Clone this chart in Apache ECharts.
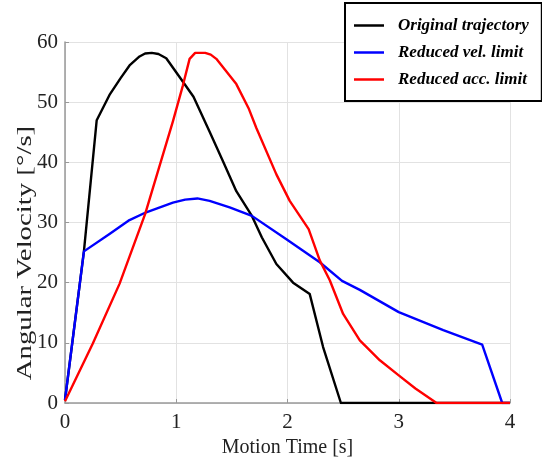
<!DOCTYPE html>
<html>
<head>
<meta charset="utf-8">
<script src="https://cdn.jsdelivr.net/npm/echarts@6/dist/echarts.min.js"></script>
<style>
    html, body { margin: 0; padding: 0; background: #fff; }
    #chart { width: 542px; height: 464px; }
</style>
</head>
<body>
<div id="chart"></div>
<script>
    // values
    var seriesNames = ['Original trajectory', 'Reduced vel. limit', 'Reduced acc. limit'];

    var origX = [0, 0.17, 0.285, 0.40, 0.50, 0.58, 0.67, 0.72, 0.78, 0.84, 0.91, 1.06, 1.155, 1.30, 1.42, 1.54, 1.68, 1.77, 1.90, 2.05, 2.20, 2.32, 2.48, 4.0];
    var origY = [0.5, 25.2, 47.0, 51.2, 54.0, 56.1, 57.6, 58.1, 58.2, 58.0, 57.3, 53.4, 50.9, 45.1, 40.2, 35.2, 31.1, 27.5, 23.1, 20.0, 18.1, 9.3, 0, 0];

    var velX = [0, 0.17, 0.40, 0.57, 0.73, 0.97, 1.08, 1.19, 1.30, 1.48, 1.68, 1.99, 2.29, 2.49, 2.65, 3.0, 3.40, 3.75, 3.93, 4.0];
    var velY = [0.5, 25.2, 28.1, 30.3, 31.7, 33.3, 33.8, 34.0, 33.6, 32.5, 31.1, 27.2, 23.4, 20.3, 18.8, 15.1, 12.1, 9.7, 0, 0];

    var accX = [0, 0.25, 0.49, 0.72, 0.97, 1.06, 1.12, 1.17, 1.26, 1.31, 1.36, 1.54, 1.65, 1.72, 1.90, 2.02, 2.19, 2.29, 2.38, 2.50, 2.65, 2.83, 3.0, 3.15, 3.34, 4.0];
    var accY = [0.3, 9.9, 19.8, 31.4, 46.8, 52.8, 57.2, 58.2, 58.2, 57.9, 57.2, 53.0, 49.0, 45.7, 38.0, 33.6, 28.9, 23.7, 20.4, 14.8, 10.4, 7.1, 4.6, 2.4, 0, 0];

    var colors = ['#000000', '#0000ff', '#ff0000'];

    function pairs(xs, ys) {
        var res = [];
        for (var i = 0; i < xs.length; i++) {
            res.push([xs[i], ys[i]]);
        }
        return res;
    }

    var serif = '"Liberation Serif", "Times New Roman", serif';
    // plain line as legend icon (no dot)
    var lineIcon = 'path://M0,0 L30,0 L30,2.5 L0,2.5 Z';

    var chart = echarts.init(document.getElementById('chart'));

    function lineSeries(idx, xs, ys) {
        return {
            name: seriesNames[idx],
            type: 'line',
            data: pairs(xs, ys),
            symbol: 'none',
            lineStyle: { color: colors[idx], width: 2.4, join: 'round' },
            itemStyle: { color: colors[idx] }
        };
    }

    var option = {
        animation: false,
        backgroundColor: '#fff',
        grid: {
            left: 65,
            right: 32,
            top: 42,
            bottom: 61
        },
        legend: {
            orient: 'vertical',
            left: 345,
            top: 3,
            data: seriesNames,
            icon: lineIcon,
            backgroundColor: '#fff',
            borderColor: '#000',
            borderWidth: 2,
            borderRadius: 0,
            padding: [14, 13, 13, 9],
            itemGap: 10,
            itemWidth: 30,
            itemHeight: 14,
            textStyle: {
                fontFamily: serif,
                fontStyle: 'italic',
                fontWeight: 'bold',
                fontSize: 17,
                color: '#000',
                padding: [0, 0, 0, 9]
            }
        },
        xAxis: {
            type: 'value',
            min: 0,
            max: 4,
            interval: 1,
            name: 'Motion Time [s]',
            nameLocation: 'middle',
            nameGap: 34,
            nameTextStyle: {
                fontFamily: serif,
                fontSize: 20,
                color: '#222'
            },
            axisLine: { show: true, lineStyle: { color: '#999', width: 1.5 } },
            axisTick: { show: true, inside: true, length: 4, lineStyle: { color: '#999' } },
            axisLabel: {
                fontFamily: serif,
                fontSize: 21,
                color: '#222',
                margin: 9
            },
            splitLine: { show: true, lineStyle: { color: '#e2e2e2', width: 1 } }
        },
        yAxis: {
            type: 'value',
            min: 0,
            max: 60,
            interval: 10,
            axisLine: { show: true, lineStyle: { color: '#999', width: 1.5 } },
            axisTick: { show: true, inside: true, length: 4, lineStyle: { color: '#999' } },
            axisLabel: {
                fontFamily: serif,
                fontSize: 21,
                color: '#222',
                margin: 7
            },
            splitLine: { show: true, lineStyle: { color: '#e2e2e2', width: 1 } }
        },
        graphic: [
            {
                // y axis title, stretched along its length like the reference
                type: 'text',
                x: 25,
                y: 253,
                rotation: Math.PI / 2,
                scaleX: 1.37,
                style: {
                    text: 'Angular Velocity [°/s]',
                    fontFamily: serif,
                    fontSize: 21,
                    fill: '#222',
                    align: 'center',
                    verticalAlign: 'middle'
                }
            }
        ],
        series: [
            lineSeries(0, origX, origY),
            lineSeries(1, velX, velY),
            lineSeries(2, accX, accY)
        ]
    };

    chart.setOption(option);
</script>
</body>
</html>
